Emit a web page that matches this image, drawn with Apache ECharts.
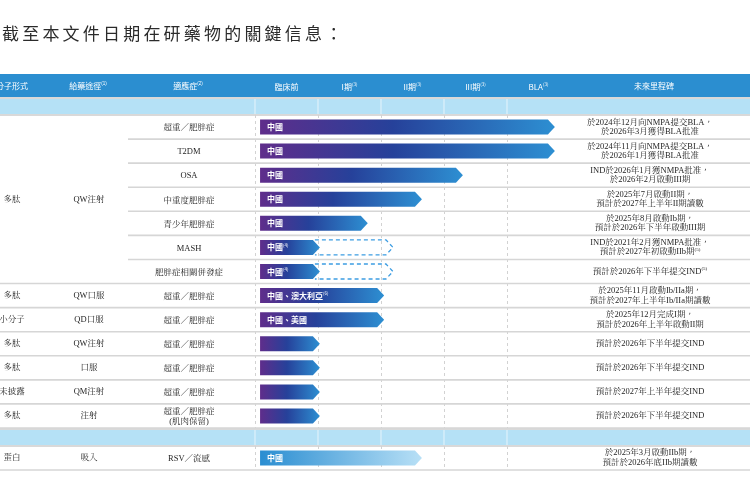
<!DOCTYPE html>
<html><head><meta charset="utf-8">
<script src="https://cdn.jsdelivr.net/npm/echarts@6/dist/echarts.min.js"></script>
<style>html,body{margin:0;padding:0;background:#fff}#c{width:750px;height:496px}</style>
</head><body><div id="c"></div>
<script>
// ---------------- data ----------------
const titleText = '截至本文件日期在研藥物的關鍵信息：';
const phaseLabels = ['臨床前', 'I期', 'II期', 'III期', 'BLA'];
const phaseNotes = ['', '(3)', '(3)', '(3)', '(3)'];
const leftHeaders = ['分子形式', '給藥途徑', '適應症', '未來里程碑'];
const leftHeaderNotes = ['', '(1)', '(2)', ''];
const forms = ['', '', '', '多肽', '', '', '', '多肽', '小分子', '多肽', '多肽', '未披露', '多肽', '蛋白'];
const routes = ['', '', '', 'QW注射', '', '', '', 'QW口服', 'QD口服', 'QW注射', '口服', 'QM注射', '注射', '吸入'];
const indications = ['超重／肥胖症', 'T2DM', 'OSA', '中重度肥胖症', '青少年肥胖症', 'MASH', '肥胖症相關併發症',
  '超重／肥胖症', '超重／肥胖症', '超重／肥胖症', '超重／肥胖症', '超重／肥胖症', '超重／肥胖症\n(肌肉保留)', 'RSV／流感'];
const regions = ['中國', '中國', '中國', '中國', '中國', '中國{s|(4)}', '中國{s|(4)}', '中國、澳大利亞{s|(6)}', '中國、美國',
  '', '', '', '', '中國'];
// progress measured in phase units (0 = start of 臨床前, 1 = start of I期, ...)
const progress = [4.76, 4.76, 3.30, 2.65, 1.79, 1.03, 1.03, 2.05, 2.05, 1.03, 1.03, 1.03, 1.03, 2.65];
const planned = [null, null, null, null, null, 2.19, 2.19, null, null, null, null, null, null, null];
const milestones = [
  '於2024年12月向NMPA提交BLA，\n於2026年3月獲得BLA批准',
  '於2024年11月向NMPA提交BLA，\n於2026年1月獲得BLA批准',
  'IND於2026年1月獲NMPA批准，\n於2026年2月啟動III期',
  '於2025年7月啟動II期，\n預計於2027年上半年II期讀數',
  '於2025年8月啟動Ib期，\n預計於2026年下半年啟動III期',
  'IND於2021年2月獲NMPA批准，\n預計於2027年初啟動IIb期{s|(5)}',
  '預計於2026年下半年提交IND{s|(5)}',
  '於2025年11月啟動Ib/IIa期，\n預計於2027年上半年Ib/IIa期讀數',
  '於2025年12月完成I期，\n預計於2026年上半年啟動II期',
  '預計於2026年下半年提交IND',
  '預計於2026年下半年提交IND',
  '預計於2027年上半年提交IND',
  '預計於2026年下半年提交IND',
  '於2025年3月啟動IIb期，\n預計於2026年底IIb期讀數'
];
const section1Count = 13;
const mergedUntil = 6; // rows 0..6 share 分子形式 / 給藥途徑 cells

// ---------------- layout ----------------
const GL = 255, UNIT = 63, BAR_START = 0.08;
const SERIF = "'Liberation Serif','Noto Serif CJK TC','Noto Sans CJK TC',serif";
const SANS = "'Noto Sans CJK TC','Noto Sans',sans-serif";
const TXT = '#1f1f1f';
const supRich = { s: { fontSize: 5, fill: TXT, fontFamily: SERIF, padding: [0, 0, 5, 0] } };

const barGrad = { type: 'linear', x: 0, y: 0, x2: 1, y2: 0, colorStops: [
  { offset: 0, color: '#5f2d8b' }, { offset: 0.45, color: '#26419a' }, { offset: 1, color: '#2d8fd2' }] };
const lightGrad = { type: 'linear', x: 0, y: 0, x2: 1, y2: 0, colorStops: [
  { offset: 0, color: '#2a8dd1' }, { offset: 1, color: '#b8e0f6' }] };

function txt(text, x, y, extra) {
  return Object.assign({ type: 'text', style: Object.assign({
    text: text, x: x, y: y, align: 'center', verticalAlign: 'middle',
    fontSize: 8.5, fontFamily: SERIF, fill: TXT, lineHeight: 10, rich: supRich }, extra || {}) });
}

function renderRow(params, api) {
  const local = api.value(1);
  const r = api.value(2);
  const cy = api.coord([0, local])[1];
  const rowH = api.size([0, 1])[1];
  const bottom = cy + rowH / 2;
  const ch = [];
  const sepStart = r < mergedUntil ? 128 : 0;
  ch.push({ type: 'rect', shape: { x: sepStart, y: bottom - 0.8, width: 750 - sepStart, height: 1.6 }, style: { fill: '#d6d6d6' } });
  if (forms[r]) ch.push(txt(forms[r], 12, cy));
  if (routes[r]) ch.push(txt(routes[r], 89, cy));
  ch.push(txt(indications[r], 189, cy + 1));
  ch.push(txt(milestones[r], 650, cy, { lineHeight: 9.5 }));
  const x0 = api.coord([BAR_START, local])[0];
  const x1 = api.coord([progress[r], local])[0];
  const h = 15, tip = 7, top = cy - h / 2, bot = cy + h / 2;
  if (planned[r] != null) {
    const xd = api.coord([planned[r], local])[0];
    ch.push({ type: 'polyline', shape: { points: [[x1 - tip + 2, top], [xd - tip, top], [xd, cy], [xd - tip, bot], [x1 - tip + 2, bot]] },
      style: { stroke: '#3d9de2', lineWidth: 1.3, lineDash: [4, 3], fill: null } });
  }
  ch.push({ type: 'polygon', shape: { points: [[x0, top], [x1 - tip, top], [x1, cy], [x1 - tip, bot], [x0, bot]] },
    style: { fill: r === 13 ? lightGrad : barGrad } });
  if (regions[r]) ch.push({ type: 'text', style: { text: regions[r], x: x0 + 7, y: cy, align: 'left', verticalAlign: 'middle',
    fill: '#fff', fontSize: 8, fontWeight: 'bold', fontFamily: SANS,
    rich: { s: { fontSize: 4.5, fill: '#fff', fontFamily: SANS, padding: [0, 0, 4, 0] } } } });
  return { type: 'group', children: ch };
}

// graphic (title, header bar, bands)
const graphics = [];
for (let i = 0; i < titleText.length; i++) {
  graphics.push({ type: 'text', x: 2 + i * 20.2, y: 25,
    style: { text: titleText[i], fontSize: 17, fontFamily: SANS, fill: '#2b2b2b' } });
}
graphics.push({ type: 'rect', shape: { x: 0, y: 74, width: 750, height: 23 }, style: { fill: '#2b8ed0' } });
const leftHeaderX = [12, 88, 188, 654];
leftHeaders.forEach((t, i) => {
  graphics.push({ type: 'text', x: leftHeaderX[i], y: 86,
    style: { text: t + (leftHeaderNotes[i] ? '{s|' + leftHeaderNotes[i] + '}' : ''), align: 'center', verticalAlign: 'middle',
      fontSize: 8, fontFamily: SANS, fill: '#fff',
      rich: { s: { fontSize: 4.5, fill: '#fff', padding: [0, 0, 4, 0] } } } });
});
[[97, 115], [428, 446]].forEach(([a, b]) => {
  graphics.push({ type: 'rect', shape: { x: 0, y: a, width: 750, height: 2 }, style: { fill: '#d9d9d9' } });
  graphics.push({ type: 'rect', shape: { x: 0, y: a + 2, width: 750, height: b - a - 3 }, style: { fill: '#b5e1f6' } });
  graphics.push({ type: 'rect', shape: { x: 0, y: b - 1, width: 750, height: 2 }, style: { fill: '#d9d9d9' } });
  for (let k = 0; k < 5; k++) {
    graphics.push({ type: 'line', shape: { x1: GL + UNIT * k, y1: a + 2, x2: GL + UNIT * k, y2: b - 1 }, style: { stroke: '#e6f4fb', lineWidth: 1 } });
  }
});

const valueX = (g) => ({
  type: 'value', gridIndex: g, min: 0, max: 5, interval: 1,
  axisLine: { show: false }, axisTick: { show: false }, axisLabel: { show: false },
  splitLine: { show: true, showMaxLine: false, lineStyle: { color: '#d2d2d2', width: 1, type: [3, 3] } }
});

const chart = echarts.init(document.getElementById('c'), null, { renderer: 'canvas' });
chart.setOption({
  animation: false,
  grid: [
    { left: GL, width: UNIT * 5, top: 115, height: 313 },
    { left: GL, width: UNIT * 5, top: 446, height: 24 }
  ],
  xAxis: [
    valueX(0), valueX(1),
    { type: 'category', gridIndex: 0, position: 'top', data: phaseLabels,
      axisLine: { show: false }, axisTick: { show: false }, splitLine: { show: false },
      axisLabel: { margin: 24, color: '#fff', fontSize: 8, fontFamily: SANS,
        formatter: (v, i) => v + (phaseNotes[i] ? '{s|' + phaseNotes[i] + '}' : ''),
        rich: { s: { fontSize: 4.5, color: '#fff', padding: [0, 0, 4, 0] } } } }
  ],
  yAxis: [
    { type: 'category', gridIndex: 0, inverse: true, data: indications.slice(0, section1Count), show: false },
    { type: 'category', gridIndex: 1, inverse: true, data: indications.slice(section1Count), show: false }
  ],
  graphic: graphics,
  series: [
    { type: 'custom', xAxisIndex: 0, yAxisIndex: 0, renderItem: renderRow, clip: false,
      encode: { x: 0, y: 1 },
      data: progress.slice(0, section1Count).map((p, i) => [p, i, i]) },
    { type: 'custom', xAxisIndex: 1, yAxisIndex: 1, renderItem: renderRow, clip: false,
      encode: { x: 0, y: 1 },
      data: progress.slice(section1Count).map((p, i) => [p, i, section1Count + i]) }
  ]
});
</script>
</body></html>
